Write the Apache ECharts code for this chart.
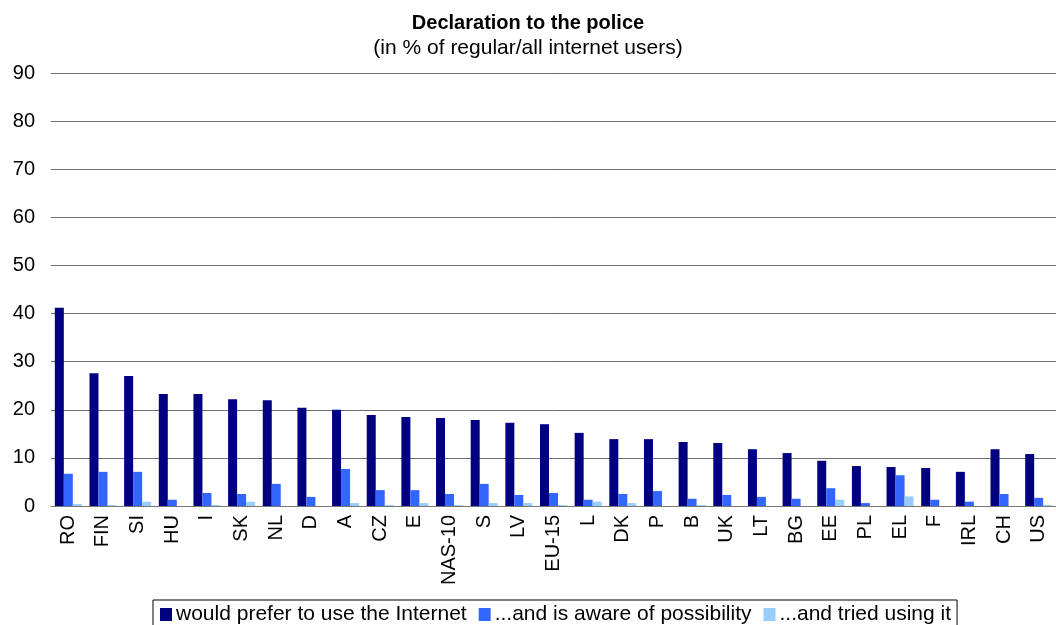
<!DOCTYPE html>
<html>
<head>
<meta charset="utf-8">
<script src="https://cdn.jsdelivr.net/npm/echarts@6/dist/echarts.min.js"></script>
<style>
  html, body { margin: 0; padding: 0; background: #fff; }
  #chart { width: 1056px; height: 625px; }
</style>
</head>
<body>
<div id="chart"></div>
<script>
// Countries / groupings along the horizontal axis
const countries = ['RO', 'FIN', 'SI', 'HU', 'I', 'SK', 'NL', 'D', 'A', 'CZ', 'E', 'NAS-10', 'S', 'LV', 'EU-15',
  'L', 'DK', 'P', 'B', 'UK', 'LT', 'BG', 'EE', 'PL', 'EL', 'F', 'IRL', 'CH', 'US'];

// Share of users (%) for each level of willingness / experience
const preferInternet = [41.2, 27.6, 27.0, 23.3, 23.3, 22.2, 22.0, 20.4, 20.0, 18.9, 18.5, 18.3, 17.9, 17.3, 17.0,
  15.2, 13.9, 13.9, 13.3, 13.1, 11.8, 11.0, 9.4, 8.3, 8.1, 7.9, 7.1, 11.8, 10.8];
const awareOfPossibility = [6.7, 7.1, 7.1, 1.3, 2.7, 2.5, 4.6, 1.9, 7.7, 3.3, 3.3, 2.5, 4.6, 2.3, 2.7,
  1.3, 2.5, 3.1, 1.5, 2.3, 1.9, 1.5, 3.7, 0.6, 6.4, 1.3, 0.9, 2.5, 1.7];
const triedUsing = [0.4, 0.2, 0.9, 0.0, 0.2, 0.9, 0.0, 0.0, 0.6, 0.2, 0.6, 0.2, 0.6, 0.6, 0.2,
  0.9, 0.6, 0.0, 0.2, 0.0, 0.0, 0.0, 1.3, 0.0, 2.0, 0.0, 0.0, 0.0, 0.2];

// Value axis ticks
const yTicks = { min: 0, max: 90, step: 10 };

const seriesNames = ['would prefer to use the Internet', '...and is aware of possibility', '...and tried using it'];
const seriesColors = ['#000080', '#3366FF', '#99CCFF'];
const seriesData = [preferInternet, awareOfPossibility, triedUsing];

const font = 'Liberation Sans, Arial, sans-serif';
const chart = echarts.init(document.getElementById('chart'), null, { renderer: 'canvas' });

chart.setOption({
  animation: false,
  backgroundColor: '#ffffff',
  title: {
    text: 'Declaration to the police',
    subtext: '(in % of regular/all internet users)',
    left: 'center',
    top: 11,
    itemGap: 1,
    padding: 0,
    textStyle: { fontFamily: font, fontSize: 20, fontWeight: 'bold', color: '#000', lineHeight: 24 },
    subtextStyle: { fontFamily: font, fontSize: 21, color: '#000', lineHeight: 24 }
  },
  legend: {
    top: 600,
    left: 153,
    icon: 'rect',
    itemWidth: 12,
    itemHeight: 13,
    itemGap: 12,
    padding: [4, 6, 12, 7],
    borderColor: '#000',
    borderWidth: 1,
    borderRadius: 0,
    textStyle: { fontFamily: font, fontSize: 21, color: '#000', padding: [0, 0, 0, -1] },
    data: seriesNames
  },
  grid: { left: 51, right: -11, top: 73, bottom: 119, containLabel: false },
  xAxis: {
    type: 'category',
    data: countries,
    axisTick: { show: false },
    axisLine: { lineStyle: { color: '#777', width: 1 } },
    axisLabel: {
      rotate: 90,
      interval: 0,
      margin: 9,
      fontFamily: font,
      fontSize: 20,
      color: '#000'
    }
  },
  yAxis: {
    type: 'value',
    min: yTicks.min,
    max: yTicks.max,
    interval: yTicks.step,
    axisLine: { show: false },
    axisTick: { show: false },
    axisLabel: { fontFamily: font, fontSize: 20, color: '#000', margin: 16 },
    splitLine: { lineStyle: { color: '#6e6e6e', width: 1 } }
  },
  series: seriesData.map((d, i) => ({
    name: seriesNames[i],
    type: 'bar',
    data: d,
    barWidth: 9,
    barGap: '0%',
    itemStyle: { color: seriesColors[i] }
  }))
});
</script>
</body>
</html>
